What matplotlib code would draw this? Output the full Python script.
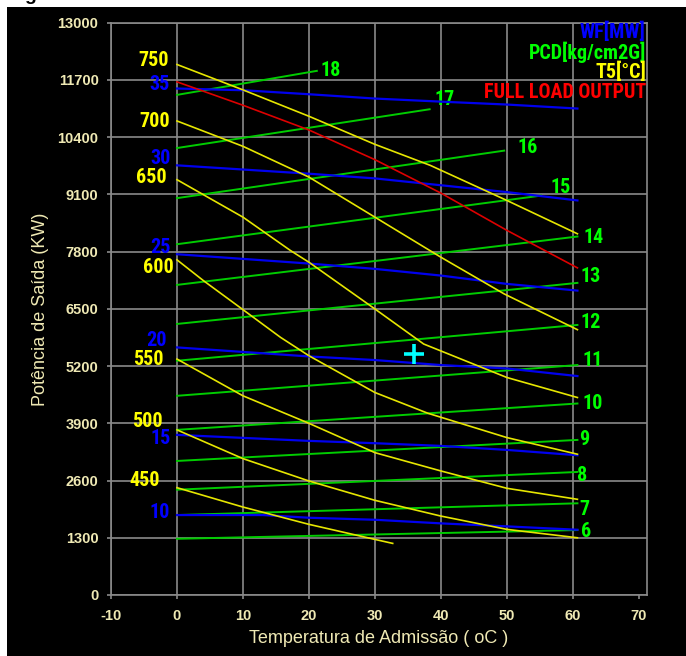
import numpy as np
import matplotlib.pyplot as plt
from matplotlib import font_manager
from matplotlib.patches import Rectangle

# PCD [kg/cm2G] - green, straight lines from x=0 to end
pcd_levels = [6, 7, 8, 9, 10, 11, 12, 13, 14, 15, 16, 17, 18]
pcd_start = [1277, 1816, 2392, 3045, 3751, 4525, 5321, 6157, 7044, 7968, 9015, 10153, 11360]
pcd_end_x = [60.7, 60.7, 60.7, 60.7, 60.7, 60.7, 60.7, 60.7, 60.7, 55.2, 49.6, 38.3, 21.2]
pcd_end_y = [1475, 2083, 2795, 3523, 4350, 5224, 6134, 7090, 8143, 9073, 10094, 11034, 11906]

# WF [MW] - blue
wf_levels = [35, 30, 25, 20, 15, 10]
wf_x = [
    [0, 10, 20, 30, 41, 50, 60.7],
    [0, 20, 30, 50, 60.7],
    [0, 20, 30, 40, 50, 60.7],
    [0, 20, 30, 40, 50, 60.7],
    [0, 20, 30, 40, 50, 60.7],
    [0, 13, 20, 30, 40, 50, 60.7],
]
wf_y = [
    [11505, 11466, 11375, 11277, 11200, 11141, 11050],
    [9760, 9570, 9463, 9152, 8963],
    [7741, 7529, 7408, 7256, 7067, 6915],
    [5624, 5419, 5337, 5223, 5146, 4973],
    [3637, 3501, 3448, 3387, 3296, 3175],
    [1816, 1816, 1755, 1709, 1627, 1559, 1482],
]

# T5 [C] - yellow
t5_levels = [750, 700, 650, 600, 550, 500, 450]
t5_x = [
    [0, 10, 20, 30, 38.4, 50, 60.7],
    [0, 10, 20, 30, 40, 49.6, 60.7],
    [0, 10, 17.2, 20, 30, 37.4, 50, 60.7],
    [0, 4, 10, 15.7, 20, 30, 38, 50, 60.7],
    [0, 10, 20, 30, 40, 50, 60.7],
    [0, 10, 20, 30, 40, 50, 60.7],
    [0, 10, 20, 30, 32.7],
]
t5_y = [
    [12051, 11474, 10875, 10237, 9759, 8963, 8205],
    [10768, 10192, 9493, 8583, 7673, 6839, 6027],
    [9434, 8583, 7825, 7559, 6498, 5701, 4941, 4486],
    [7613, 7142, 6482, 5852, 5435, 4600, 4130, 3576, 3198],
    [5360, 4525, 3900, 3234, 2818, 2424, 2174],
    [3751, 3098, 2590, 2151, 1793, 1491, 1300],
    [2438, 1998, 1605, 1263, 1172],
]

# full load output - red
full_x = [0, 10, 20, 30, 40, 50, 60.7]
full_y = [11656, 11125, 10563, 9889, 9130, 8284, 7431]

# operating point
op_x = 35.9
op_y = 5475

xticks = [-10, 0, 10, 20, 30, 40, 50, 60, 70]
yticks = [0, 1300, 2600, 3900, 5200, 6500, 7800, 9100, 10400, 11700, 13000]

# label placement (data coords)
t5_lab_x = [-1.2, -1.1, -1.5, -0.5, -2.1, -2.1, -2.6]
t5_lab_y = [12149, 10745, 9486, 7445, 5360, 3930, 2590]
wf_lab_x = [-1.1, -0.9, -0.9, -1.5, -0.9, -1.1]
wf_lab_y = [11592, 9912, 7900, 5783, 3560, 1869]
pcd_lab_x = [61.3, 61.0, 60.7, 61.0, 61.5, 61.5, 61.2, 61.2, 61.6, 56.6, 51.6, 39.1, 21.8]
pcd_lab_y = [1452, 1953, 2715, 3530, 4349, 5332, 6186, 7233, 8121, 9259, 10169, 11261, 11922]

cream = '#efe9b4'
gridc = '#8a8a8a'

# pick a narrow face for the curve labels if one is there
names = set(f.name for f in font_manager.fontManager.ttflist)
narrow_stretch = 'normal'
narrow_size = 12.5
narrow_fam = ['Liberation Sans', 'DejaVu Sans']
for cand in ['Liberation Sans Narrow', 'Arial Narrow', 'Roboto Condensed', 'Open Sans Condensed']:
    if cand in names:
        narrow_fam = [cand, 'DejaVu Sans']
        narrow_size = 14.5
        break
else:
    for f in font_manager.fontManager.ttflist:
        if f.name == 'DejaVu Sans' and f.stretch == 'condensed':
            narrow_fam = ['DejaVu Sans']
            narrow_stretch = 'condensed'
            narrow_size = 13
            break
lab_kw = dict(fontsize=narrow_size, family=narrow_fam, fontstretch=narrow_stretch,
              fontweight='bold')

fig = plt.figure(figsize=(6.86, 6.56), dpi=100)
fig.patch.set_facecolor('white')
bg = Rectangle((7/686, 0), 1, 1-7/656, transform=fig.transFigure,
               facecolor='black', edgecolor='none', zorder=-5)
fig.add_artist(bg)
fig.text(24/686, 1.0, 'g', fontsize=14, fontweight='bold', color='black',
         va='baseline', family='Liberation Sans')

ax = fig.add_axes([111/686, 1-595/656, 535.7/686, (595-22.7)/656])
ax.set_zorder(2)
ax.set_facecolor('black')
ax.set_xlim(-10, 71.2)
ax.set_ylim(0, 13000)

for xv in xticks[:-1]:
    ax.axvline(xv, color=gridc, lw=1.2, zorder=1)
for yv in yticks:
    ax.axhline(yv, color=gridc, lw=1.2, zorder=1)

for i, lev in enumerate(pcd_levels):
    ax.plot([0, pcd_end_x[i]], [pcd_start[i], pcd_end_y[i]], color='#00cc00', lw=1.4, zorder=2)
    ax.text(pcd_lab_x[i], pcd_lab_y[i], str(lev), color='#00ff00',
            ha='left', va='center', **lab_kw)

for i, lev in enumerate(wf_levels):
    ax.plot(wf_x[i], wf_y[i], color='#0000ee', lw=1.6, zorder=3)
    ax.text(wf_lab_x[i], wf_lab_y[i], str(lev), color='#0000ff',
            ha='right', va='center', **lab_kw)

for i, lev in enumerate(t5_levels):
    ax.plot(t5_x[i], t5_y[i], color='#e6e600', lw=1.2, zorder=4)
    ax.text(t5_lab_x[i], t5_lab_y[i], str(lev), color='#ffff00',
            ha='right', va='center', **lab_kw)

ax.plot(full_x, full_y, color='#dd0000', lw=1.2, zorder=4)

ax.plot(op_x, op_y, marker='+', color='#00ffff', markersize=14, mew=2.6, zorder=6)

# legend texts, top right
leg_txt = ['WF[MW]', 'PCD[kg/cm2G]', 'T5[°C]', 'FULL LOAD OUTPUT']
leg_col = ['#0000ff', '#00ff00', '#ffff00', '#ff0000']
for i in range(4):
    ax.text(0.9985, (595-32-20*i)/(595-22.7), leg_txt[i], transform=ax.transAxes,
            color=leg_col[i], ha='right', va='center', **lab_kw)

ax.set_xticks(xticks)
ax.set_yticks(yticks)
ax.set_xticklabels([str(v) for v in xticks])
ax.set_yticklabels([str(v) for v in yticks])
ax.tick_params(direction='out', length=3, width=1.2, color=gridc, labelcolor=cream,
               labelsize=10.5)
ax.tick_params(axis='x', pad=7)
ax.tick_params(axis='y', pad=6)
for lab in ax.get_xticklabels() + ax.get_yticklabels():
    lab.set_fontweight('bold')
    lab.set_family('Liberation Sans')

for sp in ax.spines.values():
    sp.set_color(gridc)
    sp.set_linewidth(1.2)

ax.set_xlabel('Temperatura de Admissão ( oC )', color=cream, fontsize=13,
              family='Liberation Sans', labelpad=5)
ax.set_ylabel('Potência de Saída (KW)', color=cream, fontsize=13,
              family='Liberation Sans', labelpad=6)

fig.savefig('out.png', dpi=100, facecolor=fig.get_facecolor())
